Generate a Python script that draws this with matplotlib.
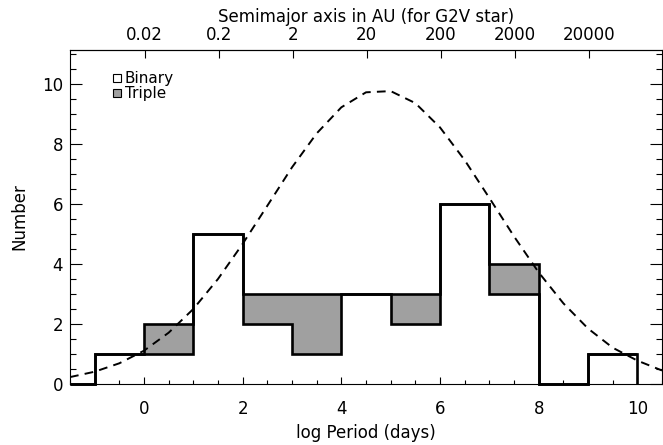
import numpy as np
import matplotlib
matplotlib.use("Agg")
import matplotlib.pyplot as plt
from matplotlib.ticker import MultipleLocator, NullLocator
from matplotlib.patches import Patch

# ---- data ----
bin_edges = [-1.5, -1, 0, 1, 2, 3, 4, 5, 6, 7, 8, 9, 10]
binary_counts = [0, 1, 1, 5, 2, 1, 3, 2, 6, 3, 0, 1]
triple_counts = [0, 0, 1, 0, 1, 2, 0, 1, 0, 1, 0, 0]

curve_x = [-1.5, -1.0, -0.5, 0.0, 0.5, 1.0, 1.5, 2.0, 2.5, 3.0, 3.5, 4.0, 4.5,
           5.0, 5.5, 6.0, 6.5, 7.0, 7.5, 8.0, 8.5, 9.0, 9.5, 10.0, 10.5]
curve_y = [0.23, 0.41, 0.69, 1.11, 1.71, 2.50, 3.50, 4.67, 5.94, 7.22, 8.35, 9.22, 9.72,
           9.76, 9.36, 8.55, 7.46, 6.20, 4.92, 3.72, 2.69, 1.85, 1.21, 0.78, 0.45]

au_ticks = [0.02, 0.2, 2, 20, 200, 2000, 20000]
au_labels = ["0.02", "0.2", "2", "20", "200", "2000", "20000"]
x_ticks = [0, 2, 4, 6, 8, 10]
y_ticks = [0, 2, 4, 6, 8, 10]
LOGP_OFFSET = np.log10(365.25)  # log P(days) for a = 1 AU, 1 Msun

total_counts = [b + t for b, t in zip(binary_counts, triple_counts)]

plt.rcParams['font.family'] = ['DejaVu Sans']
FS = 12
fig = plt.figure(figsize=(6.63, 4.45), dpi=100)
ax = fig.add_axes([70/663, 61/445, 592/663, 334/445])

edges = np.array(bin_edges, dtype=float)
ax.stairs(total_counts, edges, baseline=binary_counts, fill=True,
          facecolor='#a0a0a0', edgecolor='none', zorder=1)
ax.stairs(total_counts, edges, baseline=None, color='black', lw=1.9,
          zorder=3, clip_on=False)
ax.stairs(binary_counts, edges, baseline=0, color='black', lw=1.9,
          zorder=3, clip_on=False)

ax.plot(curve_x, curve_y, color='black', lw=1.4, ls=(0, (4.5, 3.2)), zorder=2)

ax.set_xlim(-1.5, 10.5)
ax.set_ylim(0, 11.13)
ax.set_xticks(x_ticks)
ax.set_yticks(y_ticks)
ax.xaxis.set_minor_locator(MultipleLocator(0.5))
ax.yaxis.set_minor_locator(MultipleLocator(0.5))
ax.tick_params(axis='x', which='major', direction='in', length=5, width=0.8,
               top=False, labelsize=FS, pad=11.5)
ax.tick_params(axis='x', which='minor', direction='in', length=2.6, width=0.8, top=False)
ax.tick_params(axis='y', which='major', direction='in', length=8.6, width=0.8,
               right=True, labelsize=FS, pad=5)
ax.tick_params(axis='y', which='minor', direction='in', length=4.3, width=0.8, right=True)
for s in ax.spines.values():
    s.set_linewidth(0.8)

ax.set_xlabel("log Period (days)", fontsize=FS, labelpad=4)
ax.set_ylabel("Number", fontsize=FS, labelpad=10)

sec = ax.secondary_xaxis('top', functions=(lambda p: (p - LOGP_OFFSET) / 1.5,
                                           lambda la: 1.5 * la + LOGP_OFFSET))
sec.set_xticks(np.log10(au_ticks))
sec.set_xticklabels(au_labels)
sec.tick_params(direction='in', length=5.5, width=0.8, labelsize=FS, pad=4)
sec.xaxis.set_minor_locator(NullLocator())
sec.set_xlabel("Semimajor axis in AU (for G2V star)", fontsize=FS, labelpad=3)

handles = [Patch(facecolor='white', edgecolor='black', lw=0.8, label='Binary'),
           Patch(facecolor='#a0a0a0', edgecolor='black', lw=0.8, label='Triple')]
ax.legend(handles=handles, loc='upper left', bbox_to_anchor=(0.073, 0.936),
          frameon=False, fontsize=11, handlelength=0.5, handleheight=0.5,
          handletextpad=0.25, labelspacing=0.0, borderpad=0, borderaxespad=0)

fig.savefig("out.png", dpi=100)
